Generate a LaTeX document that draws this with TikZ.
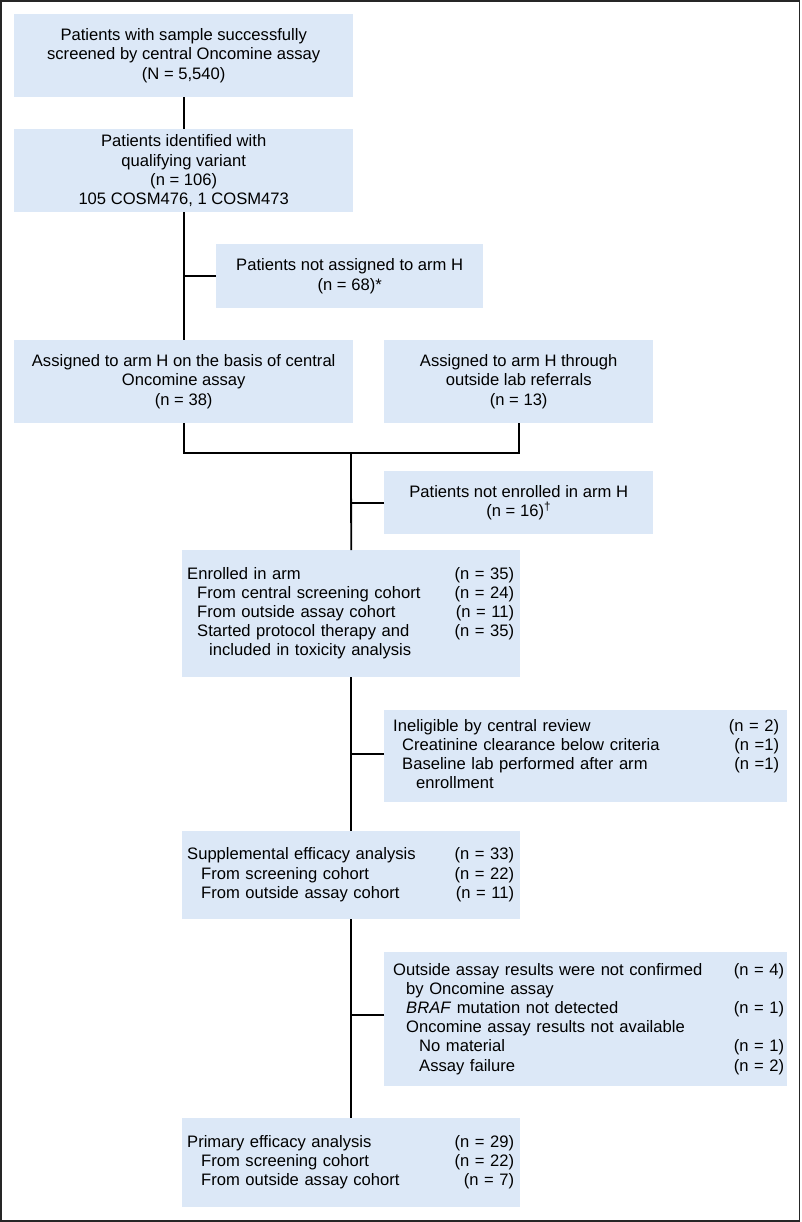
\documentclass[tikz,border=0pt]{standalone}
\usepackage{fontspec}
\setmainfont{Liberation Sans}
\usepackage{array}
\definecolor{boxfill}{RGB}{220,232,247}
\newcommand\rowtbl[3]{\hspace*{#1}\begin{tabular*}{#2}{@{}l@{\extracolsep{\fill}}r@{}}#3\end{tabular*}}
\begin{document}
\begin{tikzpicture}[x=1pt,y=-1pt,
  font=\fontsize{16.6}{19.2}\selectfont,
  cbox/.style={fill=boxfill, inner sep=0pt, anchor=north west, align=center},
  lbox/.style={fill=boxfill, inner sep=0pt, anchor=north west, align=left},
  conn/.style={line width=1.8pt, black},
  frame/.style={line width=1.3pt, black!85}]
\useasboundingbox (0,0) rectangle (801,1222);
\draw[frame] (1,1) rectangle (799.5,1221);

\node[cbox, minimum width=339pt, minimum height=83pt] (b1) at (14,14)
  {Patients with sample successfully\\screened by central Oncomine assay\\(N = 5,540)};
\node[cbox, minimum width=339pt, minimum height=83pt] (b2) at (14,129)
  {Patients identified with\\qualifying variant\\(n = 106)\\105 COSM476, 1 COSM473};
\node[cbox, minimum width=267pt, minimum height=64pt] (na) at (216,244)
  {Patients not assigned to arm H\\(n = 68)*};
\node[cbox, minimum width=339pt, minimum height=83pt] (a1) at (14,340)
  {Assigned to arm H on the basis of central\\Oncomine assay\\(n = 38)};
\node[cbox, minimum width=269pt, minimum height=83pt] (a2) at (384,340)
  {Assigned to arm H through\\outside lab referrals\\(n = 13)};
\node[cbox, minimum width=269pt, minimum height=63pt] (ne) at (384,471)
  {Patients not enrolled in arm H\\(n = 16)\textsuperscript{\dag}};

\node[lbox, text width=338pt, minimum height=127pt] (en) at (182,550)
  {\rowtbl{5pt}{327pt}{Enrolled in arm & (n = 35)\\
  \hspace*{10pt}From central screening cohort & (n = 24)\\
  \hspace*{10pt}From outside assay cohort & (n = 11)\\
  \hspace*{10pt}Started protocol therapy and & (n = 35)\\
  \hspace*{22pt}included in toxicity analysis & }};
\node[lbox, text width=403pt, minimum height=92pt] (in) at (384,710)
  {\rowtbl{9pt}{386pt}{Ineligible by central review & (n = 2)\\
  \hspace*{9pt}Creatinine clearance below criteria & (n =1)\\
  \hspace*{9pt}Baseline lab performed after arm & (n =1)\\
  \hspace*{23pt}enrollment & }};
\node[lbox, text width=338pt, minimum height=88pt] (su) at (182,831)
  {\rowtbl{5pt}{327pt}{Supplemental efficacy analysis & (n = 33)\\
  \hspace*{14pt}From screening cohort & (n = 22)\\
  \hspace*{14pt}From outside assay cohort & (n = 11)}};
\node[lbox, text width=403pt, minimum height=134pt] (ou) at (384,952)
  {\rowtbl{9pt}{391pt}{Outside assay results were not confirmed & (n = 4)\\
  \hspace*{13pt}by Oncomine assay & \\
  \hspace*{13pt}\textit{BRAF} mutation not detected & (n = 1)\\
  \hspace*{13pt}Oncomine assay results not available & \\
  \hspace*{26pt}No material & (n = 1)\\
  \hspace*{26pt}Assay failure & (n = 2)}};
\node[lbox, text width=338pt, minimum height=89pt] (pr) at (182,1118)
  {\rowtbl{5pt}{327pt}{Primary efficacy analysis & (n = 29)\\
  \hspace*{14pt}From screening cohort & (n = 22)\\
  \hspace*{14pt}From outside assay cohort & (n = 7)}};

\coordinate (j) at (351,453);
\draw[conn] (b1.south) -- (b2.north);
\draw[conn] (b2.south) -- (a1.north);
\draw[conn] (na.west) -- (na.west -| b2.south);
\draw[conn] (a1.south) |- (j) -| (a2.south);
\draw[conn] (j) -- (en.north);
\draw[conn] (ne.west) -- (ne.west -| j);
\draw[conn] (en.south) -- (su.north);
\draw[conn] ([yshift=2pt]in.west) -- ([yshift=2pt]in.west -| en.south);
\draw[conn] (su.south) -- (pr.north);
\draw[conn] ([yshift=4pt]ou.west) -- ([yshift=4pt]ou.west -| su.south);
\end{tikzpicture}
\end{document}
